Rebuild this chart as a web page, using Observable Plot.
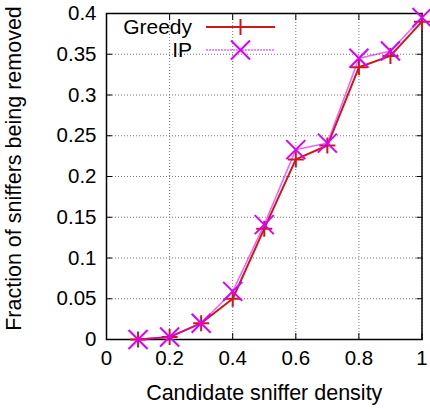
<!DOCTYPE html>
<html>
<head>
<meta charset="utf-8">
<script src="https://cdn.jsdelivr.net/npm/d3@7"></script>
<script src="https://cdn.jsdelivr.net/npm/@observablehq/plot@0.6"></script>
<style>
  html, body { margin: 0; padding: 0; background: #fff; }
  #chart { width: 430px; height: 409px; position: relative; }
  svg { font-family: "Liberation Sans", Arial, sans-serif; }
</style>
</head>
<body>
<div id="chart"></div>
<script>
const density = [0.1, 0.2, 0.3, 0.4, 0.5, 0.6, 0.7, 0.8, 0.9, 1.0];
const greedy  = [0.0, 0.003, 0.02, 0.05, 0.136, 0.221, 0.238, 0.334, 0.348, 0.390];
const ip      = [0.0, 0.003, 0.02, 0.059, 0.141, 0.233, 0.241, 0.345, 0.354, 0.395];
const xTicks = [0, 0.2, 0.4, 0.6, 0.8, 1];
const yTicks = [0, 0.05, 0.1, 0.15, 0.2, 0.25, 0.3, 0.35, 0.4];
const seriesNames = ["Greedy", "IP"];
const xLabel = "Candidate sniffer density";
const yLabel = "Fraction of sniffers being removed";

const greedyColor = "#cf1818";
const ipColor = "#d800ff";

const greedyData = density.map((d, i) => ({x: d, y: greedy[i]}));
const ipData = density.map((d, i) => ({x: d, y: ip[i]}));

const plusSym = {draw(ctx) { const s = 8; ctx.moveTo(-s, 0); ctx.lineTo(s, 0); ctx.moveTo(0, -s); ctx.lineTo(0, s); }};
const timesSym = {draw(ctx) { const s = 9.5; ctx.moveTo(-s, -s); ctx.lineTo(s, s); ctx.moveTo(-s, s); ctx.lineTo(s, -s); }};

const fmtY = d => d === 0 ? "0" : String(+d.toFixed(2));
const fmtX = d => String(+d.toFixed(1));

const chart = Plot.plot({
  width: 430,
  height: 409,
  marginLeft: 106,
  marginRight: 8.5,
  marginTop: 13,
  marginBottom: 70,
  style: {fontFamily: "'Liberation Sans', Arial, sans-serif", fontSize: "20px", background: "#fff"},
  x: {domain: [0, 1]},
  y: {domain: [0, 0.4]},
  marks: [
    Plot.gridX(xTicks, {stroke: "#777", strokeOpacity: 1, strokeWidth: 1, strokeDasharray: "1,2"}),
    Plot.gridY(yTicks, {stroke: "#777", strokeOpacity: 1, strokeWidth: 1, strokeDasharray: "1,2"}),
    Plot.axisY(yTicks, {anchor: "left", tickSize: 0, tickPadding: 10, tickFormat: fmtY, label: null, fontSize: 20.5, fill: "#000"}),
    Plot.axisY(yTicks, {anchor: "left", tickSize: 6, dx: 6, tickFormat: () => "", label: null, stroke: "#000"}),
    Plot.axisY(yTicks, {anchor: "right", tickSize: 6, dx: -6, tickFormat: () => "", label: null, stroke: "#000"}),
    Plot.axisX(xTicks, {anchor: "bottom", tickSize: 0, tickPadding: 11, tickFormat: fmtX, label: null, fontSize: 20.5, fill: "#000"}),
    Plot.axisX(xTicks, {anchor: "bottom", tickSize: 6, dy: -6, tickFormat: () => "", label: null, stroke: "#000"}),
    Plot.axisX(xTicks, {anchor: "top", tickSize: 6, dy: 6, tickFormat: () => "", label: null, stroke: "#000"}),
    Plot.frame({stroke: "#000", strokeWidth: 1.5}),
    Plot.line(greedyData, {x: "x", y: "y", stroke: greedyColor, strokeWidth: 2}),
    Plot.dot(greedyData, {x: "x", y: "y", symbol: plusSym, stroke: greedyColor, fill: "none", strokeWidth: 2}),
    Plot.line(ipData, {x: "x", y: "y", stroke: ipColor, strokeWidth: 1.6, strokeDasharray: "2,1", strokeOpacity: 0.6}),
    Plot.dot(ipData, {x: "x", y: "y", symbol: timesSym, stroke: ipColor, fill: "none", strokeWidth: 2}),
    Plot.text([xLabel], {frameAnchor: "bottom", dy: 54, fontSize: 21.5, fill: "#000", lineAnchor: "middle"}),
    Plot.text([yLabel], {frameAnchor: "left", dx: -92, dy: -8, rotate: -90, fontSize: 21.5, fill: "#000", lineAnchor: "middle", textAnchor: "middle"})
  ]
});

document.getElementById("chart").appendChild(chart);

// Legend (inside the plot, top-left)
const svg = d3.select(chart);
const leg = svg.append("g").attr("font-family", "'Liberation Sans', Arial, sans-serif").attr("font-size", 21);
const rows = [
  {name: seriesNames[0], color: greedyColor, sym: plusSym, dash: null, width: 2, op: 1},
  {name: seriesNames[1], color: ipColor, sym: timesSym, dash: "2,1", width: 1.6, op: 0.6}
];
rows.forEach((r, i) => {
  const y = 27 + i * 23;
  leg.append("text").attr("x", 192).attr("y", y).attr("text-anchor", "end").attr("dy", "0.35em").attr("fill", "#000").text(r.name);
  leg.append("line").attr("x1", 206).attr("x2", 275).attr("y1", y).attr("y2", y)
    .attr("stroke", r.color).attr("stroke-width", r.width).attr("stroke-dasharray", r.dash).attr("stroke-opacity", r.op);
  const p = d3.path(); r.sym.draw(p);
  leg.append("path").attr("d", p.toString()).attr("transform", `translate(240.5,${y})`)
    .attr("stroke", r.color).attr("stroke-width", 2).attr("fill", "none");
});
</script>
</body>
</html>
